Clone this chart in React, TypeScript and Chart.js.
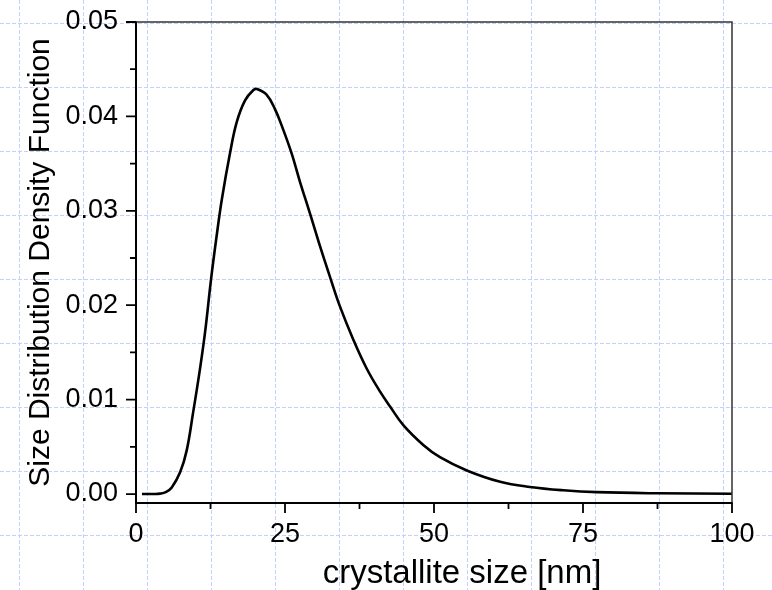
import { useEffect, useRef } from "react";
import { Chart, registerables } from "chart.js";

Chart.register(...registerables);

// crystallite size [nm]
const sizeNm = [
  1, 2, 3, 4, 5, 6, 7.4, 8.5, 9.6, 10.7, 11.6, 12.6, 13.5, 14.4, 15.8, 16.9, 18.3, 19.7, 20.3,
  21.9, 23.3, 24.7, 26.1, 27.5, 29.2, 30.9, 32.6, 34.2, 36.5, 38.7, 40.9, 42.6, 44.85, 48.2, 51,
  55.5, 61.1, 66.1, 71.7, 77.3, 87.4, 100,
];
// size distribution density function
const density = [
  0, 0, 0, 0.00004, 0.0002, 0.0007, 0.0023, 0.0046, 0.0087, 0.0131, 0.0172, 0.0228, 0.0272,
  0.0312, 0.0362, 0.0394, 0.0417, 0.0428, 0.0429, 0.0423, 0.0408, 0.0386, 0.0361, 0.0331, 0.0297,
  0.0262, 0.0229, 0.0199, 0.0163, 0.0133, 0.0109, 0.0093, 0.0073, 0.0052, 0.0039, 0.0025, 0.0013,
  0.00075, 0.0004, 0.0002, 0.00008, 0.00003,
];

const xMajor = [0, 25, 50, 75, 100];
const xMinor = [12.5, 37.5, 62.5, 87.5];
const yMajor = [0, 0.01, 0.02, 0.03, 0.04, 0.05];
const yMinor = [0.005, 0.015, 0.025, 0.035, 0.045];

const xTitle = "crystallite size [nm]";
const yTitle = "Size Distribution Density Function";

const X_MIN = 0;
const X_MAX = 100;
const Y_MIN = -0.00095;
const Y_MAX = 0.05;

const FONT = "'Liberation Sans', Arial, Helvetica, sans-serif";

const pageGridPlugin = {
  id: "pageGrid",
  beforeDraw(chart: any) {
    const { ctx, width, height } = chart;
    ctx.save();
    ctx.fillStyle = "#ffffff";
    ctx.fillRect(0, 0, width, height);
    ctx.strokeStyle = "rgb(196,208,255)";
    ctx.lineWidth = 1;
    ctx.setLineDash([4, 2]);
    for (let x = 19; x < width; x += 64) {
      ctx.beginPath();
      ctx.moveTo(x + 0.5, 0);
      ctx.lineTo(x + 0.5, height);
      ctx.stroke();
    }
    for (let y = 23; y < height; y += 64) {
      ctx.beginPath();
      ctx.moveTo(0, y + 0.5);
      ctx.lineTo(width, y + 0.5);
      ctx.stroke();
    }
    ctx.restore();
  },
};

const framePlugin = {
  id: "frame",
  afterDraw(chart: any) {
    const { ctx, chartArea } = chart;
    const { left, right, top, bottom } = chartArea;
    const xs = chart.scales.x;
    const ys = chart.scales.y;
    ctx.save();
    ctx.setLineDash([]);
    // top & right frame
    ctx.strokeStyle = "#333";
    ctx.lineWidth = 1.5;
    ctx.beginPath();
    ctx.moveTo(left, top);
    ctx.lineTo(right, top);
    ctx.lineTo(right, bottom);
    ctx.stroke();
    // left & bottom axes
    ctx.strokeStyle = "#000";
    ctx.lineWidth = 2;
    ctx.beginPath();
    ctx.moveTo(left, top - 0.5);
    ctx.lineTo(left, bottom);
    ctx.lineTo(right + 0.5, bottom);
    ctx.stroke();
    // ticks
    ctx.lineWidth = 1.8;
    ctx.beginPath();
    xMajor.forEach((v) => {
      const p = xs.getPixelForValue(v);
      ctx.moveTo(p, bottom);
      ctx.lineTo(p, bottom + 10);
    });
    xMinor.forEach((v) => {
      const p = xs.getPixelForValue(v);
      ctx.moveTo(p, bottom);
      ctx.lineTo(p, bottom + 6);
    });
    yMajor.forEach((v) => {
      const p = ys.getPixelForValue(v);
      ctx.moveTo(left, p);
      ctx.lineTo(left - 10, p);
    });
    yMinor.forEach((v) => {
      const p = ys.getPixelForValue(v);
      ctx.moveTo(left, p);
      ctx.lineTo(left - 6, p);
    });
    ctx.stroke();
    // x-axis title (offset right of centre, as in the original)
    ctx.fillStyle = "#000";
    ctx.font = `33px ${FONT}`;
    ctx.textAlign = "center";
    ctx.textBaseline = "alphabetic";
    ctx.fillText(xTitle, (left + right) / 2 + 28, bottom + 80);
    ctx.restore();
  },
};

export default function App() {
  const ref = useRef<HTMLCanvasElement | null>(null);

  useEffect(() => {
    if (!ref.current) return;
    const points = sizeNm.map((x, i) => ({ x, y: density[i] }));
    const chart = new Chart(ref.current, {
      type: "line",
      data: {
        datasets: [
          {
            data: points,
            borderColor: "#000",
            borderWidth: 2.6,
            pointRadius: 0,
            fill: false,
            tension: 0.4,
          },
        ],
      },
      options: {
        animation: false,
        responsive: false,
        events: [],
        layout: { padding: { left: 0, top: 22, right: 40, bottom: 0 } },
        plugins: {
          legend: { display: false },
          tooltip: { enabled: false },
          title: { display: false },
        },
        scales: {
          x: {
            type: "linear",
            min: X_MIN,
            max: X_MAX,
            grid: { display: false, drawTicks: false },
            border: { display: false },
            afterBuildTicks: (scale: any) => {
              scale.ticks = xMajor.map((v) => ({ value: v }));
            },
            afterFit: (scale: any) => {
              scale.height = 87;
              scale.paddingLeft = 0;
              scale.paddingRight = 0;
            },
            ticks: {
              color: "#000",
              padding: 15,
              maxRotation: 0,
              autoSkip: false,
              font: { family: FONT, size: 27 },
              callback: (v: any) => String(v),
            },
            title: { display: false },
          },
          y: {
            type: "linear",
            min: Y_MIN,
            max: Y_MAX,
            grid: { display: false, drawTicks: false },
            border: { display: false },
            afterBuildTicks: (scale: any) => {
              scale.ticks = yMajor.map((v) => ({ value: v }));
            },
            afterFit: (scale: any) => {
              scale.width = 136;
              scale.paddingTop = 0;
              scale.paddingBottom = 0;
            },
            ticks: {
              color: "#000",
              padding: 18,
              autoSkip: false,
              font: { family: FONT, size: 27 },
              callback: (v: any) => Number(v).toFixed(2),
            },
            title: {
              display: true,
              text: yTitle,
              color: "#000",
              padding: { top: 23, bottom: 0 },
              font: { family: FONT, size: 30, lineHeight: 1.2 },
            },
          },
        },
      },
      plugins: [pageGridPlugin, framePlugin],
    } as any);
    return () => chart.destroy();
  }, []);

  return (
    <div style={{ position: "fixed", left: 0, top: 0, width: 772, height: 590 }}>
      <canvas ref={ref} width={772} height={590} />
    </div>
  );
}
